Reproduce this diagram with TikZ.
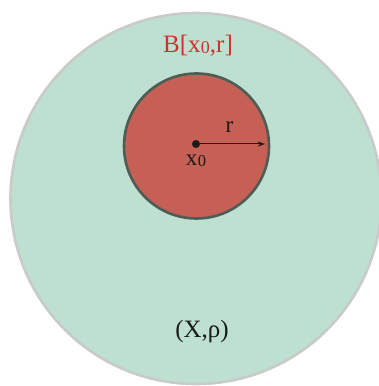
\documentclass[tikz,border=0pt]{standalone}
\usepackage{fontspec}
\setmainfont{Liberation Serif}
\usetikzlibrary{arrows.meta,positioning}
\definecolor{spacefill}{HTML}{BDE0D0}
\definecolor{spaceline}{HTML}{C9CACA}
\definecolor{ballfill}{HTML}{C66055}
\definecolor{ballline}{HTML}{4E5C56}
\definecolor{balltext}{HTML}{D0312D}
\definecolor{ink}{HTML}{1A1A1A}
\newcommand{\xnought}{x\kern0.3pt\lower0.8pt\hbox{\scalebox{0.72}{0}}}
\tikzset{
  >={Stealth[length=2.6mm,width=1.8mm]},
  spacedisk/.style={circle, draw=spaceline, fill=spacefill, line width=2.6pt, inner sep=0pt},
  balldisk/.style={circle, draw=ballline, fill=ballfill, line width=2.6pt, inner sep=0pt},
  bigtext/.style={font=\fontsize{25}{28}\selectfont, text=ink},
  midtext/.style={font=\fontsize{23}{26}\selectfont, text=ink},
  radius arrow/.style={->, draw=ink, line width=1pt},
}

\begin{document}
\begin{tikzpicture}[x=1pt,y=1pt]
\useasboundingbox (0,0) rectangle (378,386);

% -----------------------------------------------------------------------------
% metric space and closed ball
% -----------------------------------------------------------------------------
\node[spacedisk, minimum size=371pt] (space) at (196,187.5) {};
\node[balldisk, minimum size=145pt] (ball) at (196.5,240) {};

% centre and radius
\node[circle, fill=ink, inner sep=0pt, minimum size=8pt] (x0) at (196,242) {};
\coordinate (rim) at (265,242);
\draw[radius arrow] (x0) -- (rim);
\node[midtext] (rlabel) at (229.5,259) {r};
\node[midtext] (x0label) at (196,225) {\xnought};

% labels
\node[bigtext, text=balltext] (balllabel) at (198,340) {B[\xnought,r]};
\node[bigtext] (spacelabel) at (202,55) {(X,ρ)};

\end{tikzpicture}
\end{document}
